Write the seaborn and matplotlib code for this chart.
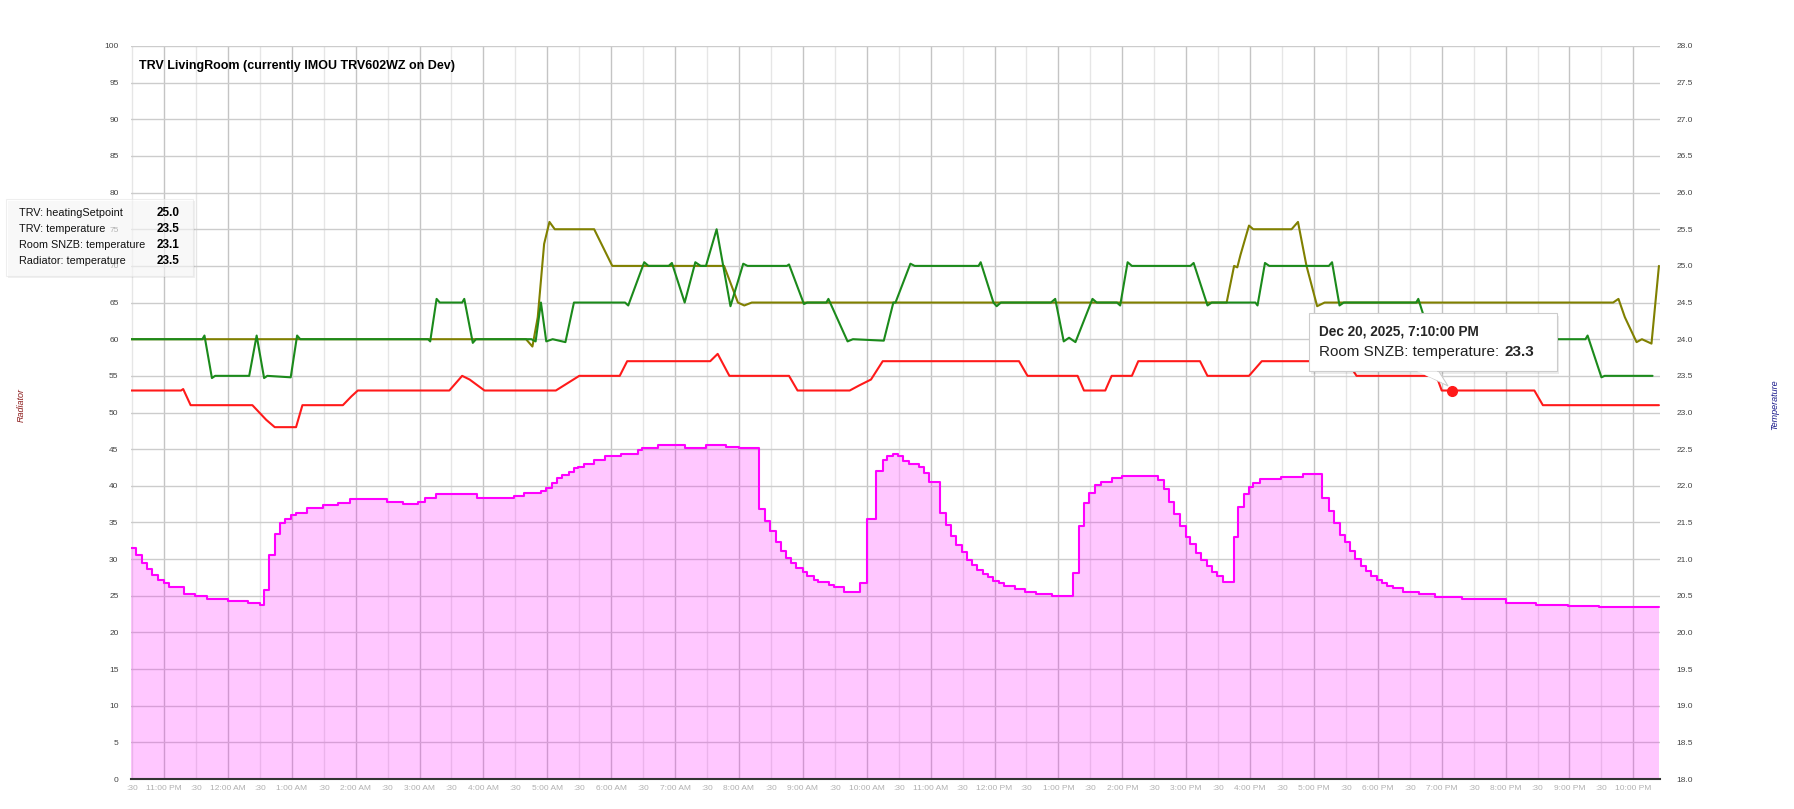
import numpy as np
import pandas as pd
import matplotlib
matplotlib.use("Agg")
import matplotlib.pyplot as plt
import matplotlib.dates as mdates
from matplotlib.patches import Rectangle, Polygon
from matplotlib.ticker import FuncFormatter, FormatStrFormatter
import seaborn as sns

# ========== Data ==========

# TRV: heatingSetpoint (right axis, degC)
setpoint_time = ["22:29", "04:40", "04:46", "04:51", "04:57", "05:02", "05:07", "05:44", "06:01",
                 "07:46", "07:59", "08:05", "08:12", "15:38", "15:45", "15:48", "15:51", "15:59",
                 "16:03", "16:39", "16:45", "16:53", "17:03", "17:10", "21:41", "21:46", "21:52",
                 "22:03", "22:08", "22:17", "22:24"]
setpoint_temp = [24.0, 24.0, 23.9, 24.3, 25.3, 25.6, 25.5, 25.5, 25.0,
                 25.0, 24.5, 24.46, 24.5, 24.5, 25.0, 24.98, 25.15, 25.55,
                 25.5, 25.5, 25.6, 25.0, 24.45, 24.5, 24.5, 24.55, 24.3,
                 23.96, 24.0, 23.94, 25.0]

# TRV: temperature (right axis)
trv_time = ["22:29", "23:36", "23:38", "23:45", "23:48", "00:20", "00:27", "00:34", "00:37",
            "00:59", "01:05", "01:08", "03:08", "03:10", "03:16", "03:19", "03:40", "03:42",
            "03:50", "03:53", "04:45", "04:49", "04:54", "04:59", "05:05", "05:17", "05:25",
            "06:13", "06:16", "06:31", "06:35", "06:54", "06:57", "07:09", "07:19", "07:24",
            "07:29", "07:39", "07:52", "08:04", "08:08", "08:45", "08:47", "09:01", "09:04",
            "09:22", "09:24", "09:42", "09:47", "10:16", "10:25", "10:27", "10:41", "10:45",
            "11:45", "11:47", "11:59", "12:02", "12:06", "12:53", "12:57", "13:05", "13:10",
            "13:16", "13:32", "13:36", "13:55", "13:58", "14:05", "14:09", "15:04", "15:07",
            "15:20", "15:24", "16:05", "16:07", "16:14", "16:18", "17:14", "17:17", "17:24",
            "17:28", "18:36", "18:38", "18:50", "21:15", "21:17", "21:30", "21:33", "22:18"]
trv_temp = [24.0, 24.0, 24.05, 23.47, 23.5, 23.5, 24.05, 23.47, 23.5,
            23.48, 24.05, 24.0, 24.0, 23.97, 24.55, 24.5, 24.5, 24.55,
            23.95, 24.0, 24.0, 23.97, 24.5, 23.97, 24.0, 23.96, 24.5,
            24.5, 24.46, 25.05, 25.0, 25.0, 25.04, 24.5, 25.05, 25.0,
            25.0, 25.5, 24.45, 25.03, 25.0, 25.0, 25.02, 24.48, 24.5,
            24.5, 24.55, 23.97, 24.0, 23.98, 24.5, 24.5, 25.03, 25.0,
            25.0, 25.05, 24.5, 24.45, 24.5, 24.5, 24.55, 23.97, 24.02,
            23.96, 24.55, 24.5, 24.5, 24.46, 25.05, 25.0, 25.0, 25.04,
            24.46, 24.5, 24.5, 24.46, 25.04, 25.0, 25.0, 25.05, 24.46,
            24.5, 24.5, 24.55, 24.0, 24.0, 24.05, 23.48, 23.5, 23.5]

# Room SNZB: temperature (right axis)
room_time = ["22:29", "23:16", "23:18", "23:25", "00:23", "00:36", "00:44", "01:04", "01:07",
             "01:10", "01:48", "01:56", "02:02", "03:28", "03:40", "03:47", "04:01", "05:08",
             "05:19", "05:30", "06:08", "06:15", "07:33", "07:40", "07:51", "08:47", "08:55",
             "09:44", "09:53", "10:04", "10:15", "12:23", "12:31", "13:18", "13:24", "13:44",
             "13:50", "14:09", "14:15", "15:13", "15:20", "15:59", "16:11", "17:31", "17:40",
             "18:55", "19:00", "20:27", "20:35", "22:24"]
room_temp = [23.3, 23.3, 23.32, 23.1, 23.1, 22.9, 22.8, 22.8, 22.95,
             23.1, 23.1, 23.22, 23.3, 23.3, 23.5, 23.45, 23.3, 23.3,
             23.4, 23.5, 23.5, 23.7, 23.7, 23.8, 23.5, 23.5, 23.3,
             23.3, 23.37, 23.45, 23.7, 23.7, 23.5, 23.5, 23.3, 23.3,
             23.5, 23.5, 23.7, 23.7, 23.5, 23.5, 23.7, 23.7, 23.5,
             23.5, 23.3, 23.3, 23.1, 23.1]

# Radiator: temperature (left axis, stepped area)
rad_time = ["22:29", "22:34", "22:39", "22:44", "22:49", "22:54", "23:00", "23:05", "23:19",
            "23:29", "23:40", "00:00", "00:19", "00:30", "00:34", "00:39", "00:44", "00:49",
            "00:54", "00:59", "01:04", "01:14", "01:29", "01:43", "01:55", "02:29", "02:44",
            "02:59", "03:05", "03:15", "03:54", "04:29", "04:38", "04:54", "04:59", "05:04",
            "05:09", "05:14", "05:20", "05:25", "05:29", "05:34", "05:44", "05:54", "06:09",
            "06:25", "06:29", "06:44", "06:59", "07:09", "07:29", "07:48", "08:00", "08:19",
            "08:24", "08:29", "08:35", "08:39", "08:44", "08:49", "08:54", "09:00", "09:04",
            "09:10", "09:14", "09:25", "09:29", "09:39", "09:54", "10:00", "10:09", "10:15",
            "10:19", "10:25", "10:29", "10:34", "10:40", "10:49", "10:54", "10:58", "11:09",
            "11:14", "11:19", "11:24", "11:29", "11:34", "11:39", "11:44", "11:49", "11:54",
            "11:59", "12:04", "12:09", "12:19", "12:29", "12:39", "12:54", "13:14", "13:19",
            "13:24", "13:29", "13:34", "13:40", "13:50", "14:00", "14:34", "14:39", "14:44",
            "14:49", "14:54", "15:00", "15:04", "15:09", "15:14", "15:20", "15:24", "15:29",
            "15:35", "15:45", "15:49", "15:54", "15:59", "16:03", "16:09", "16:29", "16:50",
            "17:08", "17:14", "17:19", "17:24", "17:29", "17:34", "17:39", "17:44", "17:49",
            "17:54", "17:59", "18:04", "18:09", "18:14", "18:24", "18:39", "18:54", "19:19",
            "20:00", "20:29", "20:59", "21:28", "22:24"]
rad_temp = [31.5, 30.5, 29.5, 28.6, 27.8, 27.2, 26.7, 26.2, 25.3,
            25.0, 24.6, 24.3, 24.0, 23.8, 25.8, 30.5, 33.4, 34.9,
            35.5, 36.0, 36.3, 37.0, 37.4, 37.7, 38.2, 37.8, 37.5,
            37.8, 38.4, 38.9, 38.4, 38.6, 39.0, 39.3, 39.7, 40.4,
            41.0, 41.5, 41.9, 42.4, 42.6, 43.0, 43.5, 44.0, 44.4,
            44.9, 45.2, 45.5, 45.6, 45.2, 45.5, 45.3, 45.2, 36.9,
            35.2, 33.9, 32.4, 31.1, 30.2, 29.5, 28.8, 28.3, 27.7,
            27.2, 26.9, 26.5, 26.2, 25.5, 26.7, 35.5, 42.0, 43.5,
            44.0, 44.4, 44.0, 43.4, 43.0, 42.5, 41.8, 40.5, 36.3,
            34.7, 33.1, 31.9, 31.0, 29.9, 29.2, 28.5, 28.0, 27.5,
            27.0, 26.7, 26.3, 25.9, 25.5, 25.2, 24.9, 28.1, 34.5,
            37.6, 39.0, 40.1, 40.5, 41.1, 41.3, 40.8, 39.6, 37.8,
            36.2, 34.5, 33.0, 32.0, 30.9, 29.9, 29.0, 28.3, 27.7,
            26.9, 33.0, 37.1, 38.9, 39.9, 40.4, 40.9, 41.2, 41.6,
            38.3, 36.5, 34.9, 33.3, 32.4, 31.1, 30.0, 29.0, 28.4,
            27.7, 27.1, 26.8, 26.3, 26.0, 25.5, 25.2, 24.8, 24.5,
            24.0, 23.7, 23.6, 23.5, 23.5]

legend_names = ["TRV: heatingSetpoint", "TRV: temperature", "Room SNZB: temperature", "Radiator: temperature"]
legend_values = ["25.0", "23.5", "23.1", "23.5"]

tooltip_time = "19:10"
tooltip_value = 23.3
tooltip_title = "Dec 20, 2025, 7:10:00 PM"
tooltip_label = "Room SNZB: temperature:"

title = "TRV LivingRoom (currently IMOU TRV602WZ on Dev)"
x_start, x_end = "2025-12-19 22:29", "2025-12-20 22:25"


def to_times(clock):
    """clock strings, rolling over to the next day after midnight"""
    day = pd.Timestamp("2025-12-19")
    out, prev = [], None
    for c in clock:
        t = day + pd.Timedelta(c + ":00")
        if prev is not None and t < prev:
            day += pd.Timedelta(days=1)
            t += pd.Timedelta(days=1)
        out.append(t)
        prev = t
    return pd.to_datetime(out)


sp = pd.DataFrame({"time": to_times(setpoint_time), "temp": setpoint_temp})
trv = pd.DataFrame({"time": to_times(trv_time), "temp": trv_temp})
room = pd.DataFrame({"time": to_times(room_time), "temp": room_temp})
rad = pd.DataFrame({"time": to_times(rad_time), "temp": rad_temp})
tip_t = pd.Timestamp("2025-12-20 " + tooltip_time)

# ========== Figure ==========
sns.set_style("white")
plt.rcParams["font.family"] = ["Liberation Sans", "DejaVu Sans"]

W, H = 1794, 809
fig = plt.figure(figsize=(W / 100, H / 100), dpi=100)
ax = fig.add_axes([131 / W, 1 - 779 / H, (1660 - 131) / W, (779 - 46) / H])
ax2 = ax.twinx()


def fx(x):
    return x / W


def fy(y):
    return 1 - y / H


# radiator area (left axis)
ax.fill_between(rad["time"], rad["temp"], step="post", color="#ff00ff", alpha=0.22, lw=0, zorder=2)
sns.lineplot(data=rad, x="time", y="temp", ax=ax, color="#ff00ff", lw=1.5,
             drawstyle="steps-post", estimator=None, sort=False, zorder=3)

# temperature lines (right axis)
sns.lineplot(data=sp, x="time", y="temp", ax=ax2, color="#808000", lw=1.5, estimator=None, sort=False)
sns.lineplot(data=trv, x="time", y="temp", ax=ax2, color="#1b8a1b", lw=1.5, estimator=None, sort=False)
sns.lineplot(data=room, x="time", y="temp", ax=ax2, color="#ff1a1a", lw=1.5, estimator=None, sort=False)
ax2.plot([tip_t], [tooltip_value], "o", color="#ff1a1a", ms=7, zorder=5)

# axes / grid
ax.set_xlim(pd.Timestamp(x_start), pd.Timestamp(x_end))
ax.set_ylim(0, 100)
ax2.set_ylim(18, 28)
ax.set_yticks(np.arange(0, 101, 5))
ax2.set_yticks(np.arange(18, 28.01, 0.5))
ax2.yaxis.set_major_formatter(FormatStrFormatter("%.1f"))

ax.xaxis.set_major_locator(mdates.HourLocator())
ax.xaxis.set_minor_locator(mdates.MinuteLocator(byminute=[30]))
ax.xaxis.set_major_formatter(FuncFormatter(
    lambda v, p: mdates.num2date(v).strftime("%I:%M %p").lstrip("0")))
ax.xaxis.set_minor_formatter(FuncFormatter(lambda v, p: ":30"))

ax.set_axisbelow(True)
ax.grid(axis="y", color="#cccccc", lw=1)
ax.grid(axis="x", which="major", color="#c4c4c4", lw=1)
ax.grid(axis="x", which="minor", color="#e6e6e6", lw=1)

ax.tick_params(axis="x", which="both", length=0, labelsize=6, labelcolor="#b0b0b0", pad=4)
ax.tick_params(axis="y", length=0, labelsize=6, labelcolor="#444444", pad=9)
ax2.tick_params(axis="y", length=0, labelsize=6, labelcolor="#444444", pad=12)
ax.set_xlabel("")
ax.set_ylabel("")
ax2.set_ylabel("")

for s in ["top", "left", "right"]:
    ax.spines[s].set_visible(False)
    ax2.spines[s].set_visible(False)
ax2.spines["bottom"].set_visible(False)
ax.spines["bottom"].set_color("#333333")
ax.spines["bottom"].set_linewidth(1.5)
ax.spines["bottom"].set_zorder(6)

# axis titles
fig.text(fx(21), fy(405), "Radiator", rotation=90, ha="center", va="center",
         fontsize=6.5, style="italic", color="#8b1a1a")
fig.text(fx(1775), fy(405), "Temperature", rotation=90, ha="center", va="center",
         fontsize=6.5, style="italic", color="#1a1a8b")

# chart title
fig.text(fx(139), fy(66), title, fontsize=9, fontweight="bold", va="center", ha="left", color="#000000")

# legend box (values panel), slightly see-through like the reference
fig.add_artist(Rectangle((fx(8), fy(278)), (193 - 6) / W, (276 - 199) / H,
                         transform=fig.transFigure, facecolor="#000000", alpha=0.06, lw=0, zorder=4))
fig.add_artist(Rectangle((fx(6), fy(276)), (193 - 6) / W, (276 - 199) / H,
                         transform=fig.transFigure, facecolor="white", alpha=0.6,
                         edgecolor="#e4e4e4", lw=0.8, zorder=5))
for i, (name, val) in enumerate(zip(legend_names, legend_values)):
    y = 213 + i * 16
    fig.text(fx(19), fy(y), name, fontsize=7.8, va="center", ha="left", color="#111111", zorder=6)
    fig.text(fx(157), fy(y), val, fontsize=8.5, fontweight="heavy", va="center", ha="left",
             color="#000000", zorder=6)

# tooltip
fig.add_artist(Rectangle((fx(1311), fy(374)), (1557 - 1309) / W, (371 - 313) / H,
                         transform=fig.transFigure, facecolor="#000000", alpha=0.08, lw=0, zorder=6))
fig.add_artist(Polygon([(fx(1416), fy(370)), (fx(1438), fy(370)), (fx(1448), fy(386))],
                       closed=True, transform=fig.transFigure, facecolor="white",
                       edgecolor="#cccccc", lw=0.8, zorder=7))
fig.add_artist(Rectangle((fx(1309), fy(371)), (1557 - 1309) / W, (371 - 313) / H,
                         transform=fig.transFigure, facecolor="white", edgecolor="#cccccc",
                         lw=0.8, zorder=7))
fig.add_artist(Polygon([(fx(1417), fy(371.5)), (fx(1437), fy(371.5)), (fx(1446), fy(384))],
                       closed=True, transform=fig.transFigure, facecolor="white", lw=0, zorder=8))
fig.text(fx(1319), fy(331), tooltip_title, fontsize=9.8, fontweight="bold", va="center", ha="left", zorder=9)
lab = fig.text(fx(1319), fy(352), tooltip_label, fontsize=11, va="center", ha="left",
               color="#222222", zorder=9)
fig.canvas.draw()
x_end_px = lab.get_window_extent().x1
fig.text(x_end_px / W + 5 / W, fy(352), f"{tooltip_value:.1f}", fontsize=11, fontweight="bold",
         va="center", ha="left", zorder=9)

fig.savefig("out.png", dpi=100)
